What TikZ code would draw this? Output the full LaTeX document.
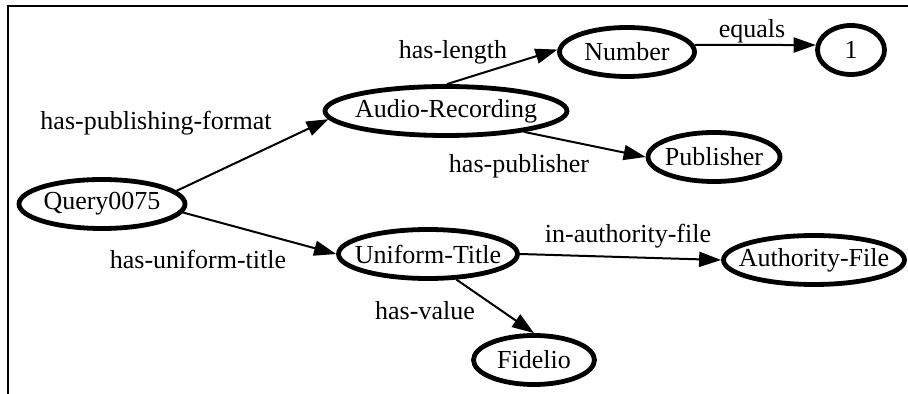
\documentclass[tikz,border=0pt]{standalone}
\usepackage{fontspec}
\setmainfont{Liberation Serif}
\usepackage{tikz}
\usetikzlibrary{shapes.geometric,arrows.meta}
\newcommand{\zw}[1]{\makebox[0pt]{#1}}

\begin{document}
\begin{tikzpicture}[x=0.5pt,y=-0.5pt,
    font=\fontsize{13}{15}\selectfont,
    ent/.style={ellipse,draw,line width=2.4pt,inner sep=0pt,minimum height=24.5pt},
    link/.style={-{Triangle[length=11pt,width=7.5pt]},line width=1pt},
    rel/.style={inner sep=0pt}]
    \useasboundingbox (0,0) rectangle (908,394);
    \draw[line width=1.3pt] (8,394) -- (8,6) -- (908,6);

    \node (q) at (102,204) [ent,minimum width=83pt] {\zw{Query0075}};
    \node (a) at (446,111) [ent,minimum width=121pt] {\zw{Audio-Recording}};
    \node (n) at (627,52) [ent,minimum width=67.5pt] {\zw{Number}};
    \node (one) at (851,50) [ent,minimum width=33.5pt] {\zw{1}};
    \node (p) at (714,157) [ent,minimum width=66pt] {\zw{Publisher}};
    \node (u) at (428,254) [ent,minimum width=89.5pt] {\zw{Uniform-Title}};
    \node (af) at (814,260) [ent,minimum width=90.5pt] {\zw{Authority-File}};
    \node (f) at (534,360) [ent,minimum width=60.5pt] {\zw{Fidelio}};

    \node (l1) at (156,123) [rel] {has-publishing-format};
    \node (l2) at (453,52) [rel] {has-length};
    \node (l3) at (752,31) [rel] {equals};
    \node (l4) at (519,166) [rel] {has-publisher};
    \node (l5) at (198,259) [rel] {has-uniform-title};
    \node (l6) at (628,236) [rel] {in-authority-file};
    \node (l7) at (425,311) [rel] {has-value};

    \draw[link] (q.10) -- (a.184);
    \draw[link] (a.88) -- (n.178);
    \draw[link] (n.6) -- (one.172);
    \draw[link] (a.-15) -- (p.west);
    \draw[link] (q.-6) -- (u.west);
    \draw[link] (u.east) -- (af.west);
    \draw[link] (u.-42) -- (f.north);
\end{tikzpicture}
\end{document}
